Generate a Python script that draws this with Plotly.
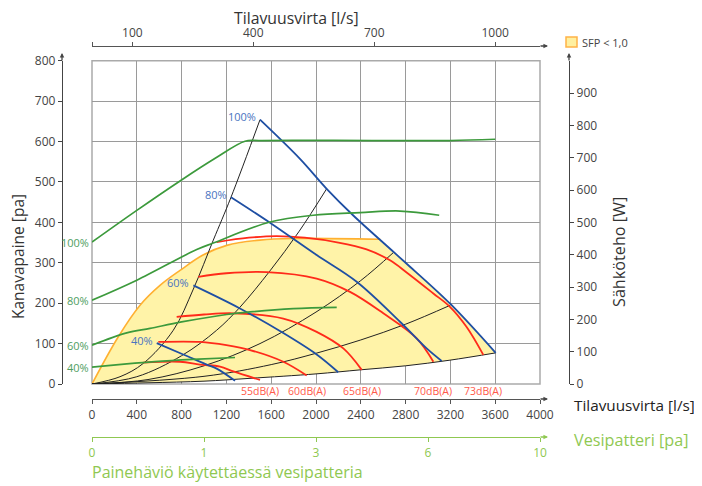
import plotly.graph_objects as go

# flow [m3/h] vs. pressure [pa] readings
fan_100 = [(1500, 654), (1857, 557), (2095, 483), (2333, 417), (2676, 331), (2800, 300), (3200, 198), (3604, 77)]
fan_80 = [(1241, 462), (1589, 399), (2006, 319), (2363, 253), (2750, 154), (2988, 88), (3122, 57)]
fan_60 = [(905, 244), (1321, 187), (1708, 126), (2006, 73), (2199, 29)]
fan_40 = [(578, 101), (815, 73), (1024, 48), (1113, 38), (1277, 8)]
fan_labels = ['100%', '80%', '60%', '40%']

# electric power [W]
power_100 = [(0, 439), (400, 537), (786, 628), (1100, 698), (1366, 751), (1500, 753), (2500, 753), (3200, 753), (3600, 757)]
power_80 = [(0, 259), (400, 321), (935, 416), (1083, 436), (1589, 501), (1976, 522), (2393, 530), (2750, 535), (3100, 522)]
power_60 = [(0, 120), (310, 158), (518, 172), (800, 192), (1202, 215), (1411, 223), (1798, 233), (2185, 237)]
power_40 = [(0, 52), (310, 62), (560, 69), (900, 76), (1277, 82)]

# sound level curves
sound_55 = [(458, 53), (786, 55), (964, 48), (1143, 43), (1262, 31), (1500, 10)]
sound_60 = [(592, 104), (964, 104), (1200, 96), (1411, 84), (1708, 55), (1917, 21)]
sound_65 = [(756, 166), (1000, 172), (1262, 175), (1708, 162), (2006, 129), (2244, 88), (2408, 35)]
sound_70 = [(949, 265), (1200, 274), (1560, 277), (2006, 261), (2304, 228), (2601, 175), (2899, 113), (3048, 55)]
sound_73 = [(1113, 351), (1400, 362), (1649, 366), (1900, 362), (2200, 350), (2452, 333), (2661, 306),
            (2809, 276), (3048, 224), (3196, 191), (3345, 141), (3494, 72)]
sound_labels = ['55dB(A)', '60dB(A)', '65dB(A)', '70dB(A)', '73dB(A)']

# system curves
system_1 = [(0, 0), (250, 18), (458, 51), (726, 133), (905, 235), (1083, 356), (1241, 462), (1500, 654)]
system_2 = [(0, 0), (400, 18), (800, 70), (1113, 133), (1321, 190), (1589, 280), (1850, 378), (2095, 483)]
system_3 = [(0, 0), (500, 11), (1000, 45), (1500, 100), (2000, 178), (2400, 256), (2690, 325)]
system_4 = [(0, 0), (1000, 19), (1600, 48), (2000, 76), (2400, 109), (2800, 148), (3200, 195)]
system_5 = [(0, 0), (500, 3), (1000, 7), (1411, 14), (2000, 25), (2393, 35), (2800, 45), (3196, 59), (3604, 77)]

# SFP < 1,0 boundary (left/top edge)
sfp_edge = [(0, 0), (235, 117), (429, 195), (607, 244), (786, 281), (991, 319), (1203, 343),
            (1500, 356), (1795, 360), (2574, 358)]

flow_ticks = [0, 400, 800, 1200, 1600, 2000, 2400, 2800, 3200, 3600, 4000]
ls_ticks = [100, 400, 700, 1000]
water_pos = [0, 1000, 2000, 3000, 4000]
water_text = ['0', '1', '3', '6', '10']
pressure_ticks = [0, 100, 200, 300, 400, 500, 600, 700, 800]
power_ticks = [0, 100, 200, 300, 400, 500, 600, 700, 800, 900]

BLUE = '#1f4fa3'
BLUE_TXT = '#4a74c0'
GREEN = '#3c9a3c'
GREEN_TXT = '#4f9e5f'
LIGHT_GREEN = '#8fc851'
RED = '#ff2a1a'
RED_TXT = '#ff5a4a'
ORANGE = '#ffb030'
YELLOW = '#fff3a8'
TXT = '#444444'
FONT = 'Open Sans'


# screen pixel -> paper fraction (page body has an 8px margin, compensated in layout margins)
def px_x(px):
    return (px - 10) / 682


def px_y(py):
    return (461 - py) / 431


def xs(pts):
    return [p[0] for p in pts]


def ys(pts):
    return [p[1] for p in pts]


fig = go.Figure()

# yellow SFP area: orange edge, outer fan curve, bottom system curve back to origin
area = sfp_edge + [p for p in fan_100 if p[0] > sfp_edge[-1][0]] + system_5[::-1]
fig.add_trace(go.Scatter(x=xs(area), y=ys(area), fill='toself', fillcolor=YELLOW,
                         mode='lines', line=dict(width=0), hoverinfo='skip', showlegend=False))
fig.add_trace(go.Scatter(x=xs(sfp_edge), y=ys(sfp_edge), mode='lines', line_shape='spline',
                         line=dict(color=ORANGE, width=1.6), showlegend=False))

for curve in [system_1, system_2, system_3, system_4, system_5]:
    fig.add_trace(go.Scatter(x=xs(curve), y=ys(curve), mode='lines', line_shape='spline',
                             line=dict(color='#222222', width=1), showlegend=False))

for curve in [sound_55, sound_60, sound_65, sound_70, sound_73]:
    fig.add_trace(go.Scatter(x=xs(curve), y=ys(curve), mode='lines', line_shape='spline',
                             line=dict(color=RED, width=1.8), showlegend=False))

for curve in [power_100, power_80, power_60, power_40]:
    fig.add_trace(go.Scatter(x=xs(curve), y=ys(curve), yaxis='y2', mode='lines', line_shape='spline',
                             line=dict(color=GREEN, width=1.7), showlegend=False))

for curve in [fan_100, fan_80, fan_60, fan_40]:
    fig.add_trace(go.Scatter(x=xs(curve), y=ys(curve), mode='lines', line_shape='spline',
                             line=dict(color=BLUE, width=1.8), showlegend=False))

# invisible traces so the extra scale axes get drawn
for ax in ['x2', 'x3', 'x4']:
    fig.add_trace(go.Scatter(x=[0], y=[0], xaxis=ax, yaxis='y', mode='markers',
                             marker=dict(opacity=0), hoverinfo='skip', showlegend=False))

annotations = []
for label, curve in zip(fan_labels, [fan_100, fan_80, fan_60, fan_40]):
    annotations.append(dict(x=curve[0][0], y=curve[0][1], xref='x', yref='y', text=label,
                            showarrow=False, xanchor='right', yanchor='middle', xshift=-2, yshift=3,
                            font=dict(size=11, color=BLUE_TXT)))
for label, curve in zip(fan_labels, [power_100, power_80, power_60, power_40]):
    annotations.append(dict(x=curve[0][0], y=curve[0][1], xref='x', yref='y2', text=label,
                            showarrow=False, xanchor='right', yanchor='middle', xshift=-1,
                            font=dict(size=11, color=GREEN_TXT)))
for label, curve in zip(sound_labels, [sound_55, sound_60, sound_65, sound_70, sound_73]):
    annotations.append(dict(x=curve[-1][0], y=px_y(391), xref='x', yref='paper', text=label,
                            showarrow=False, xanchor='center', yanchor='middle',
                            font=dict(size=10.5, color=RED_TXT)))

# axis arrows
for (x, y, ax, ay) in [(548, 46, -9, 0), (548, 399, -9, 0), (548, 437, -9, 0), (62, 53, 0, 9), (569, 53, 0, 9)]:
    col = LIGHT_GREEN if y == 437 else '#444444'
    annotations.append(dict(x=px_x(x), y=px_y(y), xref='paper', yref='paper', ax=ax, ay=ay,
                            showarrow=True, arrowhead=2, arrowsize=0.7, arrowwidth=1.3,
                            arrowcolor=col, text=''))

titles = [
    ('Tilavuusvirta [l/s]', 296, 18, 'center', 15.8, '#333333'),
    ('Tilavuusvirta [l/s]', 573, 405, 'left', 15.3, '#222222'),
    ('Vesipatteri [pa]', 573, 440, 'left', 16.2, LIGHT_GREEN),
    ('Painehäviö käytettäessä vesipatteria', 91, 472, 'left', 16, LIGHT_GREEN),
    ('SFP < 1,0', 581, 42, 'left', 11, TXT),
]
for text, x, y, anchor, size, col in titles:
    annotations.append(dict(x=px_x(x), y=px_y(y), xref='paper', yref='paper', text=text,
                            showarrow=False, xanchor=anchor, yanchor='middle', borderpad=0,
                            font=dict(size=size, color=col)))
annotations.append(dict(x=px_x(18), y=px_y(257), xref='paper', yref='paper', text='Kanavapaine [pa]',
                        textangle=-90, showarrow=False, xanchor='center', yanchor='middle',
                        font=dict(size=15.5, color='#333333')))
annotations.append(dict(x=px_x(619), y=px_y(252), xref='paper', yref='paper', text='Sähköteho [W]',
                        textangle=-90, showarrow=False, xanchor='center', yanchor='middle',
                        font=dict(size=16.2, color='#333333')))

shapes = [
    dict(type='rect', xref='paper', yref='paper', x0=px_x(92), x1=px_x(540), y0=px_y(384), y1=px_y(60.7),
         line=dict(color='#aaaaaa', width=1.5), layer='below'),
    dict(type='rect', xref='paper', yref='paper', x0=px_x(566), x1=px_x(577), y0=px_y(47), y1=px_y(37),
         fillcolor='#fff0a0', line=dict(color='#ffb347', width=1.5)),
]

axis_font = dict(size=12, color=TXT)
fig.update_layout(
    width=702, height=486,
    margin=dict(l=2, r=18, t=22, b=33, autoexpand=False),
    paper_bgcolor='white', plot_bgcolor='white',
    font=dict(family=FONT, color=TXT),
    showlegend=False,
    xaxis=dict(domain=[px_x(92), px_x(540)], range=[0, 4000], tickvals=flow_ticks, showticklabels=False,
               showgrid=True, gridcolor='#9a9a9a', gridwidth=1, zeroline=False, ticks='', anchor='y'),
    yaxis=dict(domain=[px_y(384), px_y(60.7)], range=[0, 800], tickvals=pressure_ticks,
               showgrid=True, gridcolor='#9a9a9a', gridwidth=1, zeroline=False,
               anchor='free', position=px_x(62), showline=True, linecolor='#444444', linewidth=1.3,
               ticks='outside', ticklen=4, tickcolor='#444444', tickfont=axis_font),
    yaxis2=dict(overlaying='y', side='right', anchor='free', position=px_x(569), range=[0, 1000],
                tickvals=power_ticks, showgrid=False, zeroline=False, showline=True,
                linecolor='#444444', linewidth=1.3, ticks='outside', ticklen=4, tickcolor='#444444',
                tickfont=axis_font),
    xaxis2=dict(overlaying='x', anchor='free', position=px_y(399), side='bottom', range=[0, 4000],
                tickvals=flow_ticks, showgrid=False, zeroline=False, showline=True,
                linecolor='#555555', linewidth=1.3, ticks='outside', ticklen=4, tickcolor='#555555',
                tickfont=axis_font),
    xaxis3=dict(overlaying='x', anchor='free', position=px_y(46), side='top', range=[0, 4000 / 3.6],
                tickvals=[0] + ls_ticks, ticktext=[''] + [str(t) for t in ls_ticks],
                showgrid=False, zeroline=False, showline=True, linecolor='#555555', linewidth=1.3,
                ticks='outside', ticklen=4, tickcolor='#555555', tickfont=axis_font),
    xaxis4=dict(overlaying='x', anchor='free', position=px_y(437), side='bottom', range=[0, 4000],
                tickvals=water_pos, ticktext=water_text, showgrid=False, zeroline=False, showline=True,
                linecolor=LIGHT_GREEN, linewidth=1.3, ticks='outside', ticklen=4, tickcolor=LIGHT_GREEN,
                tickfont=dict(size=12, color=LIGHT_GREEN)),
    annotations=annotations,
    shapes=shapes,
)

fig.write_html("out.html")
